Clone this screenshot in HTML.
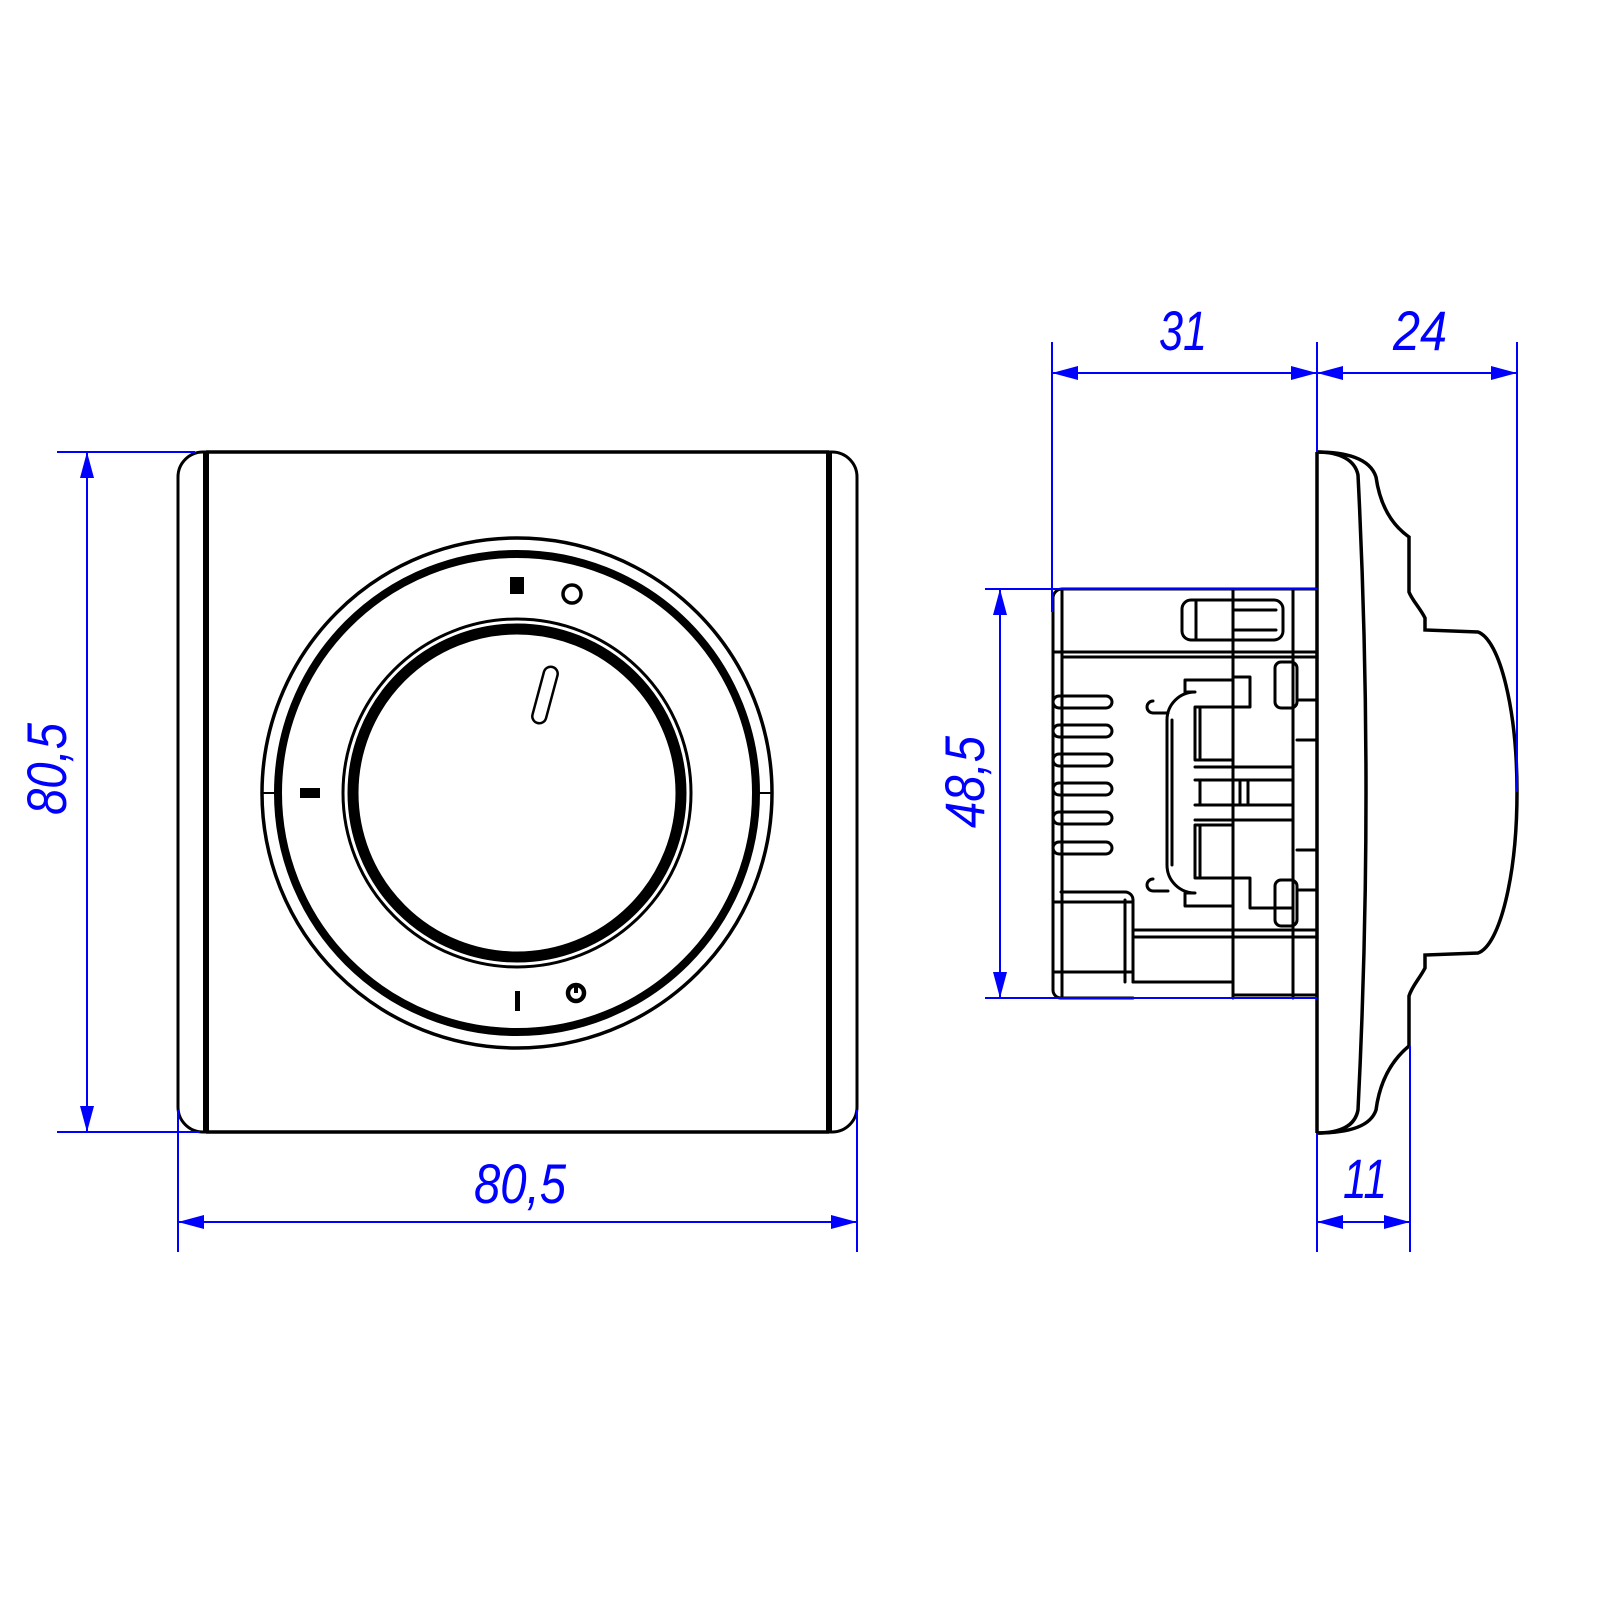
<!DOCTYPE html>
<html><head><meta charset="utf-8"><style>
html,body{margin:0;padding:0;background:#fff;}
svg{display:block;}
.d{stroke:#0000ff;stroke-width:2;fill:none}
.a{fill:#0000ff;stroke:none}
.t{fill:#0000ff;font-family:"Liberation Sans",sans-serif;font-style:italic;font-size:56px}
.k{stroke:#000;fill:none;stroke-width:3;stroke-linejoin:round;stroke-linecap:round}
.k3{stroke:#000;fill:none;stroke-width:3.5}
</style></head><body>
<svg width="1600" height="1600" viewBox="0 0 1600 1600" xmlns="http://www.w3.org/2000/svg">
<!-- FRONT VIEW -->
<g>
 <path class="k3" d="M206 452 H829 M206 1132 H829"/>
 <path class="k" d="M206 452 H203 A25 25 0 0 0 178 477 V1107 A25 25 0 0 0 203 1132 H206"/>
 <path class="k" d="M829 452 H832 A25 25 0 0 1 857 477 V1107 A25 25 0 0 1 832 1132 H829"/>
 <line x1="206" y1="452" x2="206" y2="1132" stroke="#000" stroke-width="6"/>
 <line x1="829" y1="452" x2="829" y2="1132" stroke="#000" stroke-width="6"/>
 <circle cx="517" cy="793" r="255" fill="none" stroke="#000" stroke-width="3.5"/>
 <circle cx="517" cy="793" r="239" fill="none" stroke="#000" stroke-width="8"/>
 <line x1="262" y1="793" x2="276" y2="793" stroke="#000" stroke-width="2"/>
 <line x1="758" y1="793" x2="772" y2="793" stroke="#000" stroke-width="2"/>
 <circle cx="517" cy="793" r="174" fill="none" stroke="#000" stroke-width="3"/>
 <circle cx="517" cy="793" r="164" fill="none" stroke="#000" stroke-width="11"/>
 <rect x="-7" y="-29" width="14" height="58" rx="7" transform="translate(545 695) rotate(15)" fill="none" stroke="#000" stroke-width="2.5"/>
 <rect x="510" y="577" width="14" height="17" fill="#000"/>
 <circle cx="572" cy="594" r="9" fill="none" stroke="#000" stroke-width="3.5"/>
 <rect x="300" y="788" width="20" height="10" fill="#000"/>
 <rect x="515" y="991" width="5" height="20" fill="#000"/>
 <circle cx="576" cy="993" r="8" fill="none" stroke="#000" stroke-width="4.5"/>
 <line x1="576" y1="984" x2="576" y2="993" stroke="#000" stroke-width="4"/>
</g>
<!-- SIDE VIEW -->
<g>
 <line x1="1317" y1="452" x2="1317" y2="1133" stroke="#000" stroke-width="3.5"/>
 <path class="k3" d="M1317 452 C1345 452 1370 458 1376 477 C1380 505 1392 525 1409 537 V592 C1412 600 1420 608 1425 618 V630 L1478 632 C1500 640 1517 710 1517 792 C1517 875 1500 945 1478 953 L1425 955 V968 C1420 978 1412 986 1409 996 V1046 C1392 1060 1380 1080 1376 1110 C1370 1128 1345 1133 1317 1133"/>
 <path class="k3" d="M1317 452 C1340 452 1355 460 1358 475 Q1374 792 1358 1110 C1355 1126 1340 1133 1317 1133"/>
 <!-- box -->
 <path class="k" d="M1317 589 H1062 A9 9 0 0 0 1053 598 V990 A8 8 0 0 0 1061 998 H1133 M1062 589 V998"/>
 <path class="k" d="M1053 652 H1317 M1062 657 H1317"/>
 <path class="k" d="M1233 589 V998 M1293 589 V998 M1233 995 H1317 M1133 982 H1233"/>
 <rect x="1182" y="600" width="101" height="40" rx="9" class="k"/>
 <path class="k" d="M1196 602 V640 M1233 610 H1276 M1233 630 H1276"/>
 <g class="k">
  <rect x="1053" y="696" width="59" height="12" rx="6"/>
  <rect x="1053" y="725" width="59" height="12" rx="6"/>
  <rect x="1053" y="754" width="59" height="12" rx="6"/>
  <rect x="1053" y="783" width="59" height="12" rx="6"/>
  <rect x="1053" y="812" width="59" height="12" rx="6"/>
  <rect x="1053" y="842" width="59" height="12" rx="6"/>
  <path d="M1062 696 V854"/>
 </g>
 <path class="k" d="M1233 680 H1185 V692 H1195 A28 28 0 0 0 1167 720 V865 A28 28 0 0 0 1195 893 H1185 V906 H1233"/>
 <path class="k" d="M1172 720 V865 M1153 701 A6 6 0 0 0 1153 713 H1168 M1153 879 A6 6 0 0 0 1153 891 H1168"/>
 <path class="k" d="M1233 677 H1250 V707 H1195 V760 H1233 M1195 707 V760 M1200 707 V760"/>
 <path class="k" d="M1233 878 H1250 V908 H1293 M1195 825 V878 H1233 M1200 825 V878 M1195 825 H1233"/>
 <path class="k" d="M1195 767 H1293 M1195 820 H1293 M1195 780 H1293 M1195 805 H1293 M1200 780 V805 M1240 780 V805 M1248 780 V805"/>
 <rect x="1275" y="662" width="22" height="46" rx="6" class="k"/>
 <rect x="1275" y="880" width="22" height="46" rx="6" class="k"/>
 <path class="k" d="M1297 700 H1317 M1297 740 H1317 M1297 850 H1317 M1297 890 H1317"/>
 <path class="k" d="M1061 892 H1125 A8 8 0 0 1 1133 900 V982 M1053 902 H1133 M1125 900 V982 M1133 930 H1317 M1133 937 H1317 M1053 972 H1133"/>
</g>
<!-- DIMENSIONS -->
<g>
 <path class="d" d="M57 452 H195 M57 1132 H200 M87 452 V1132"/>
 <path class="a" d="M87 452 L80 478 L94 478 Z M87 1132 L80 1106 L94 1106 Z"/>
 <text class="t" transform="translate(66 769) rotate(-90)" text-anchor="middle" textLength="92" lengthAdjust="spacingAndGlyphs">80,5</text>
 <path class="d" d="M178 1110 V1252 M857 1110 V1252 M178 1222 H857"/>
 <path class="a" d="M178 1222 L204 1215 L204 1229 Z M857 1222 L831 1215 L831 1229 Z"/>
 <text class="t" x="520" y="1203" text-anchor="middle" textLength="92" lengthAdjust="spacingAndGlyphs">80,5</text>
 <path class="d" d="M1052 342 V612 M1317 342 V452 M1517 342 V792 M1052 373 H1517"/>
 <path class="a" d="M1052 373 L1078 366 L1078 380 Z M1317 373 L1291 366 L1291 380 Z M1317 373 L1343 366 L1343 380 Z M1517 373 L1491 366 L1491 380 Z"/>
 <text class="t" x="1183" y="350" text-anchor="middle" textLength="48" lengthAdjust="spacingAndGlyphs">31</text>
 <text class="t" x="1420" y="350" text-anchor="middle" textLength="54" lengthAdjust="spacingAndGlyphs">24</text>
 <path class="d" d="M985 589 H1317 M985 998 H1317 M1000 589 V998"/>
 <path class="a" d="M1000 589 L993 615 L1007 615 Z M1000 998 L993 972 L1007 972 Z"/>
 <text class="t" transform="translate(984 782) rotate(-90)" text-anchor="middle" textLength="92" lengthAdjust="spacingAndGlyphs">48,5</text>
 <path class="d" d="M1317 1133 V1252 M1410 1046 V1252 M1317 1222 H1410"/>
 <path class="a" d="M1317 1222 L1343 1215 L1343 1229 Z M1410 1222 L1384 1215 L1384 1229 Z"/>
 <text class="t" x="1365" y="1198" text-anchor="middle" textLength="44" lengthAdjust="spacingAndGlyphs">11</text>
</g>
</svg>
</body></html>
